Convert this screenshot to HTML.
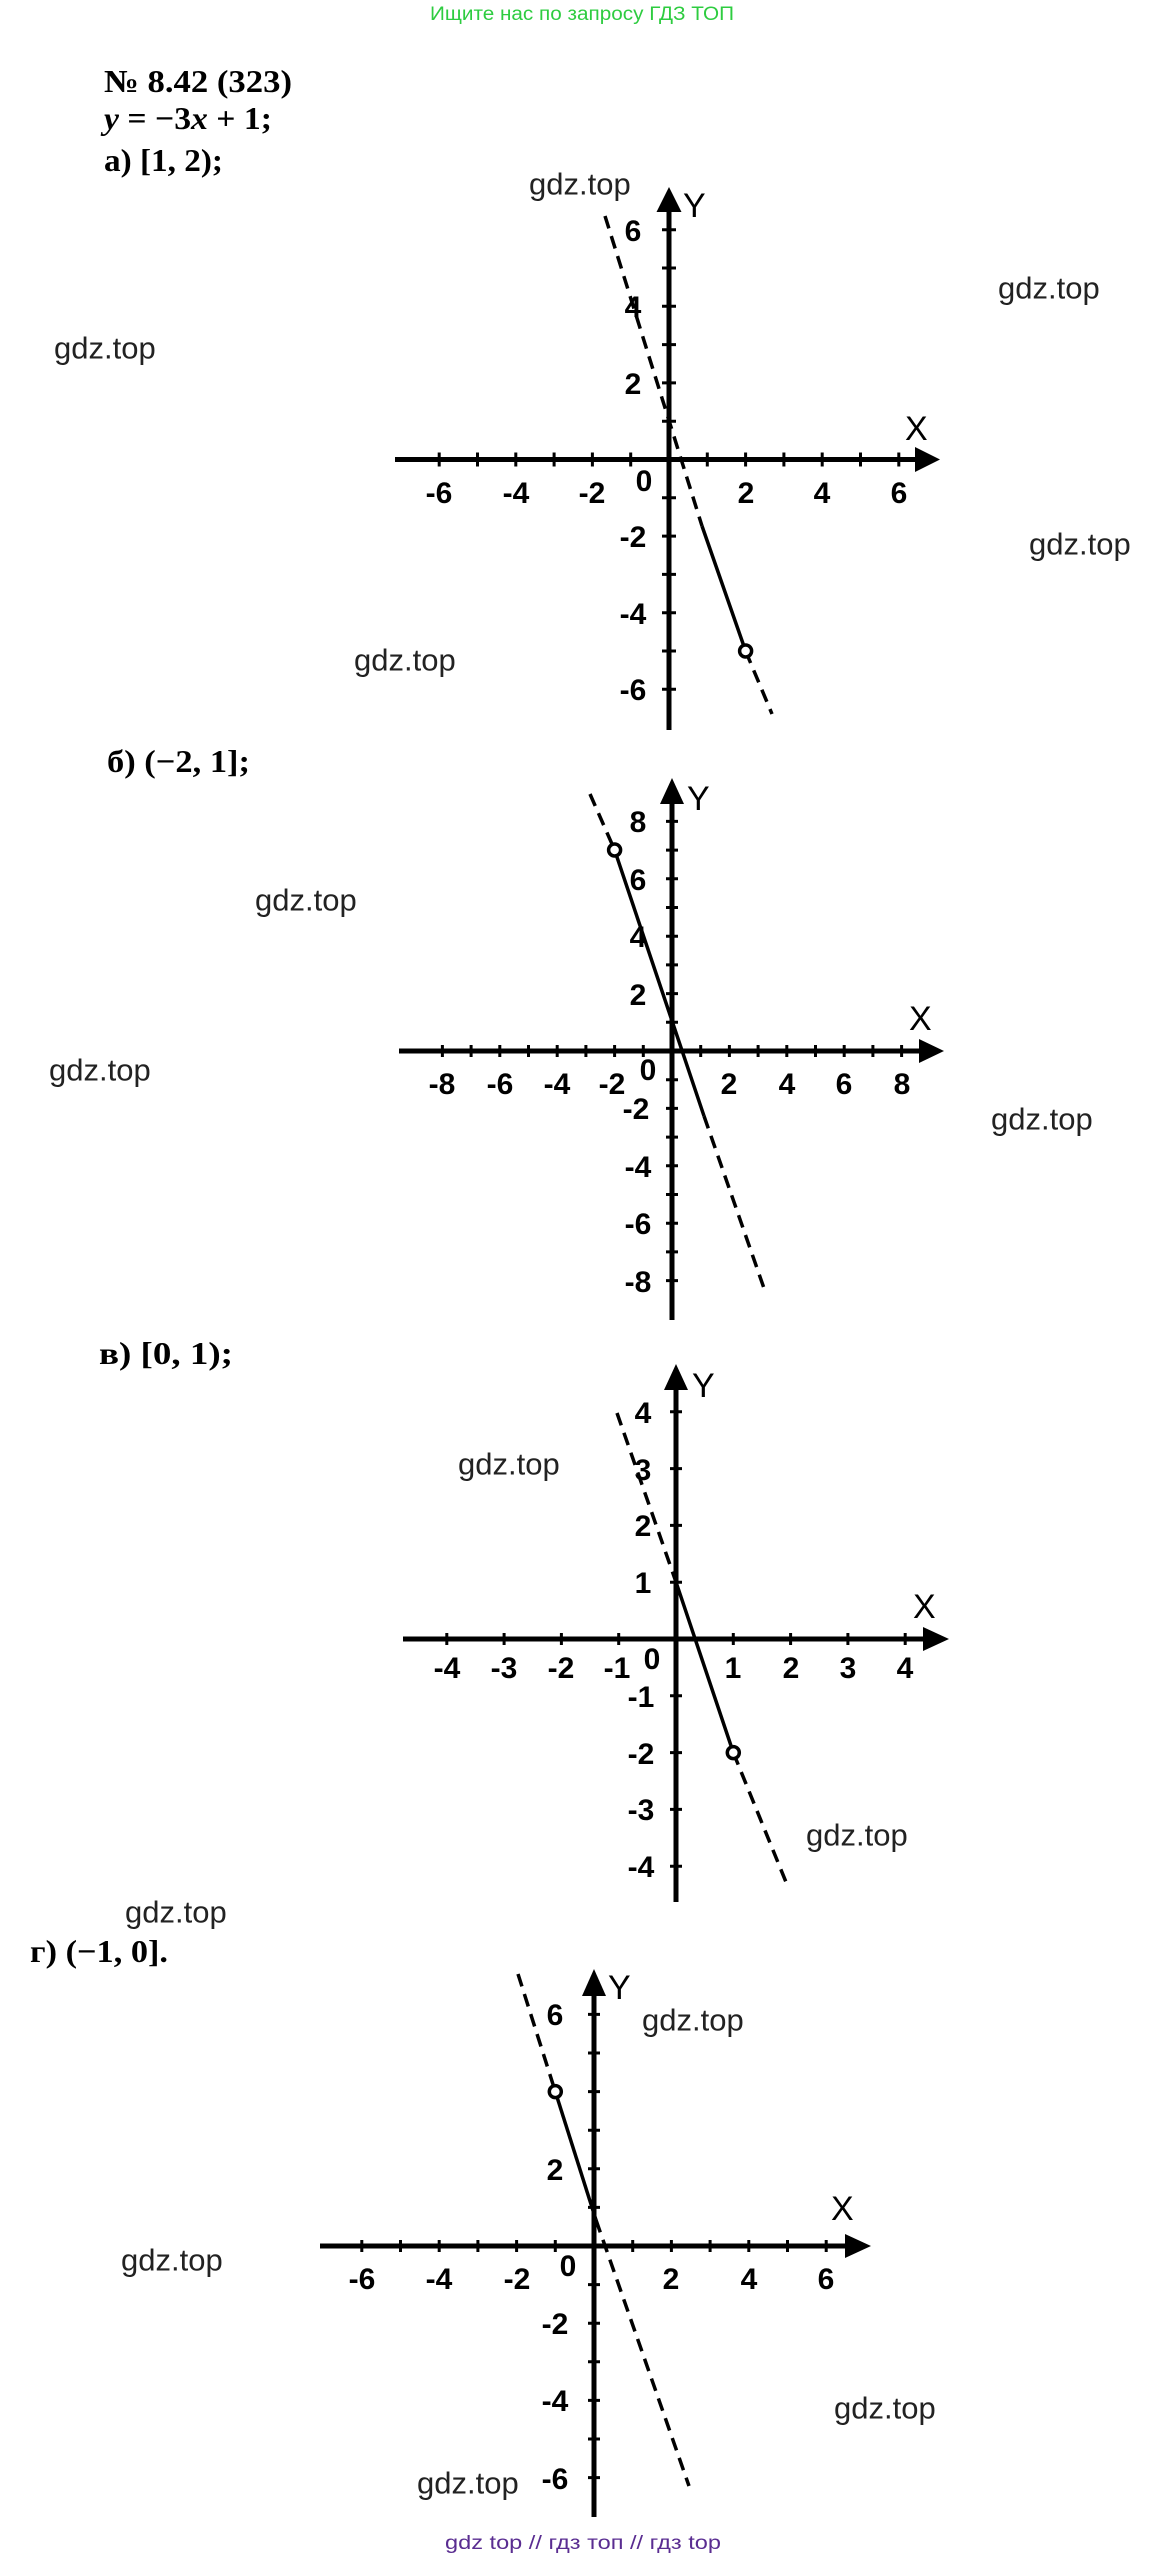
<!DOCTYPE html>
<html><head><meta charset="utf-8">
<style>
html,body{margin:0;padding:0;background:#fff;}
svg{display:block;}
.t{font-family:"Liberation Sans",sans-serif;font-weight:bold;font-size:30px;fill:#000;text-anchor:middle;}
.l{font-family:"Liberation Sans",sans-serif;font-size:34px;fill:#000;}
.w{font-family:"Liberation Sans",sans-serif;font-size:31px;fill:#222;dominant-baseline:central;}
.h{font-family:"Liberation Serif","DejaVu Serif",serif;font-weight:bold;font-size:32px;fill:#000;}
.ax{stroke:#000;stroke-width:5;fill:none;}
.ln{stroke:#000;stroke-width:3.5;fill:none;}
.ds{stroke:#000;stroke-width:3.5;fill:none;stroke-dasharray:13 8;}
.c{stroke:#000;stroke-width:3.5;fill:#fff;}
</style></head>
<body>
<svg width="1168" height="2558" viewBox="0 0 1168 2558" xmlns="http://www.w3.org/2000/svg">
<text x="430" y="20" textLength="304" lengthAdjust="spacingAndGlyphs" style="font-family:'Liberation Sans',sans-serif;font-size:19px;fill:#2ecc40;">Ищите нас по запросу ГДЗ ТОП</text>

<text class="h" x="104" y="92" textLength="188" lengthAdjust="spacingAndGlyphs">№ 8.42 (323)</text>
<text class="h" x="104" y="129" textLength="168" lengthAdjust="spacingAndGlyphs"><tspan font-style="italic">y</tspan> = −3<tspan font-style="italic">x</tspan> + 1;</text>
<text class="h" x="104" y="171" textLength="119" lengthAdjust="spacingAndGlyphs">а) [1, 2);</text>

<!-- Graph a -->
<line class="ax" x1="395" y1="459.5" x2="920" y2="459.5"/>
<polygon points="915,447 940,459.5 915,472"/>
<line class="ax" x1="669" y1="730" x2="669" y2="208"/>
<polygon points="656.5,212 669,187 681.5,212"/>
<line x1="437.7" y1="459.5" x2="900.3" y2="459.5" stroke="#000" stroke-width="14" stroke-dasharray="3 35.3"/>
<line x1="669" y1="228.2" x2="669" y2="690.8" stroke="#000" stroke-width="14" stroke-dasharray="3 35.3"/>
<line class="ds" x1="605" y1="216" x2="702" y2="526"/>
<line class="ln" x1="702" y1="526" x2="745.6" y2="651"/>
<line class="ds" x1="745.6" y1="651" x2="772" y2="714"/>
<circle class="c" cx="745.6" cy="651" r="6"/>
<text class="t" x="439" y="503">-6</text><text class="t" x="516" y="503">-4</text><text class="t" x="592" y="503">-2</text>
<text class="t" x="746" y="503">2</text><text class="t" x="822" y="503">4</text><text class="t" x="899" y="503">6</text>
<text class="t" x="644" y="491">0</text>
<text class="t" x="633" y="241">6</text><text class="t" x="633" y="317">4</text><text class="t" x="633" y="394">2</text>
<text class="t" x="633" y="547">-2</text><text class="t" x="633" y="624">-4</text><text class="t" x="633" y="700">-6</text>
<text class="l" x="905" y="440">X</text><text class="l" x="683" y="217">Y</text>

<text class="h" x="107" y="772" textLength="143" lengthAdjust="spacingAndGlyphs">б) (−2, 1];</text>

<!-- Graph b -->
<line class="ax" x1="399" y1="1051" x2="924" y2="1051"/>
<polygon points="919,1039 944,1051 919,1063"/>
<line class="ax" x1="672" y1="1320" x2="672" y2="800"/>
<polygon points="660,804 672,778 684,804"/>
<line x1="440.9" y1="1051" x2="903.1" y2="1051" stroke="#000" stroke-width="12" stroke-dasharray="3 25.7"/>
<line x1="672" y1="819.9" x2="672" y2="1282.1" stroke="#000" stroke-width="12" stroke-dasharray="3 25.7"/>
<line class="ds" x1="590" y1="794" x2="614.6" y2="850"/>
<line class="ln" x1="614.6" y1="850" x2="704" y2="1116"/>
<line class="ds" x1="704" y1="1116" x2="766" y2="1294"/>
<circle class="c" cx="614.6" cy="850" r="6"/>
<text class="t" x="442" y="1094">-8</text><text class="t" x="500" y="1094">-6</text><text class="t" x="557" y="1094">-4</text><text class="t" x="612" y="1094">-2</text>
<text class="t" x="729" y="1094">2</text><text class="t" x="787" y="1094">4</text><text class="t" x="844" y="1094">6</text><text class="t" x="902" y="1094">8</text>
<text class="t" x="648" y="1080">0</text>
<text class="t" x="638" y="832">8</text><text class="t" x="638" y="890">6</text><text class="t" x="638" y="947">4</text><text class="t" x="638" y="1005">2</text>
<text class="t" x="636" y="1119">-2</text><text class="t" x="638" y="1177">-4</text><text class="t" x="638" y="1234">-6</text><text class="t" x="638" y="1292">-8</text>
<text class="l" x="909" y="1030">X</text><text class="l" x="687" y="810">Y</text>

<text class="h" x="99" y="1364" textLength="134" lengthAdjust="spacingAndGlyphs">в) [0, 1);</text>

<!-- Graph c -->
<line class="ax" x1="403" y1="1639" x2="928" y2="1639"/>
<polygon points="923,1627 949,1639 923,1651"/>
<line class="ax" x1="676" y1="1902" x2="676" y2="1386"/>
<polygon points="664,1390 676,1364 688,1390"/>
<line x1="445.3" y1="1639" x2="906.7" y2="1639" stroke="#000" stroke-width="12" stroke-dasharray="3 54.3"/>
<line x1="676" y1="1410.3" x2="676" y2="1867.7" stroke="#000" stroke-width="12" stroke-dasharray="3 53.8"/>
<line class="ds" x1="617" y1="1413" x2="676" y2="1582"/>
<line class="ln" x1="676" y1="1582" x2="733.3" y2="1752.6"/>
<line class="ds" x1="733.3" y1="1752.6" x2="788" y2="1887"/>
<circle class="c" cx="733.3" cy="1752.6" r="6"/>
<text class="t" x="447" y="1678">-4</text><text class="t" x="504" y="1678">-3</text><text class="t" x="561" y="1678">-2</text><text class="t" x="617" y="1678">-1</text>
<text class="t" x="733" y="1678">1</text><text class="t" x="791" y="1678">2</text><text class="t" x="848" y="1678">3</text><text class="t" x="905" y="1678">4</text>
<text class="t" x="652" y="1669">0</text>
<text class="t" x="643" y="1423">4</text><text class="t" x="643" y="1480">3</text><text class="t" x="643" y="1536">2</text><text class="t" x="643" y="1593">1</text>
<text class="t" x="641" y="1707">-1</text><text class="t" x="641" y="1764">-2</text><text class="t" x="641" y="1820">-3</text><text class="t" x="641" y="1877">-4</text>
<text class="l" x="913" y="1618">X</text><text class="l" x="692" y="1397">Y</text>

<text class="h" x="30" y="1962" textLength="138" lengthAdjust="spacingAndGlyphs">г) (−1, 0].</text>

<!-- Graph d -->
<line class="ax" x1="320" y1="2246" x2="850" y2="2246"/>
<polygon points="845,2234 871,2246 845,2258"/>
<line class="ax" x1="594" y1="2517" x2="594" y2="1992"/>
<polygon points="582,1996 594,1969 606,1996"/>
<line x1="360.3" y1="2246" x2="827.7" y2="2246" stroke="#000" stroke-width="12" stroke-dasharray="3 35.7"/>
<line x1="594" y1="2012.9" x2="594" y2="2479.1" stroke="#000" stroke-width="12" stroke-dasharray="3 35.6"/>
<line class="ds" x1="518" y1="1974" x2="555.3" y2="2091.6"/>
<line class="ln" x1="555.3" y1="2091.6" x2="596" y2="2220"/>
<line class="ds" x1="596" y1="2220" x2="689" y2="2486"/>
<circle class="c" cx="555.3" cy="2091.6" r="6"/>
<text class="t" x="362" y="2289">-6</text><text class="t" x="439" y="2289">-4</text><text class="t" x="517" y="2289">-2</text>
<text class="t" x="671" y="2289">2</text><text class="t" x="749" y="2289">4</text><text class="t" x="826" y="2289">6</text>
<text class="t" x="568" y="2276">0</text>
<text class="t" x="555" y="2025">6</text><text class="t" x="555" y="2180">2</text>
<text class="t" x="555" y="2334">-2</text><text class="t" x="555" y="2411">-4</text><text class="t" x="555" y="2489">-6</text>
<text class="l" x="831" y="2220">X</text><text class="l" x="608" y="1999">Y</text>

<!-- watermarks -->
<text class="w" x="529" y="184">gdz.top</text>
<text class="w" x="998" y="288">gdz.top</text>
<text class="w" x="54" y="348">gdz.top</text>
<text class="w" x="1029" y="544">gdz.top</text>
<text class="w" x="354" y="660">gdz.top</text>
<text class="w" x="255" y="900">gdz.top</text>
<text class="w" x="49" y="1070">gdz.top</text>
<text class="w" x="991" y="1119">gdz.top</text>
<text class="w" x="458" y="1464">gdz.top</text>
<text class="w" x="806" y="1835">gdz.top</text>
<text class="w" x="125" y="1912">gdz.top</text>
<text class="w" x="642" y="2020">gdz.top</text>
<text class="w" x="121" y="2260">gdz.top</text>
<text class="w" x="834" y="2408">gdz.top</text>
<text class="w" x="417" y="2483">gdz.top</text>

<text x="445" y="2549" textLength="276" lengthAdjust="spacingAndGlyphs" style="font-family:'Liberation Sans',sans-serif;font-size:19px;fill:#5a2d91;">gdz top  //  гдз топ  //  гдз top</text>
</svg>
</body></html>
